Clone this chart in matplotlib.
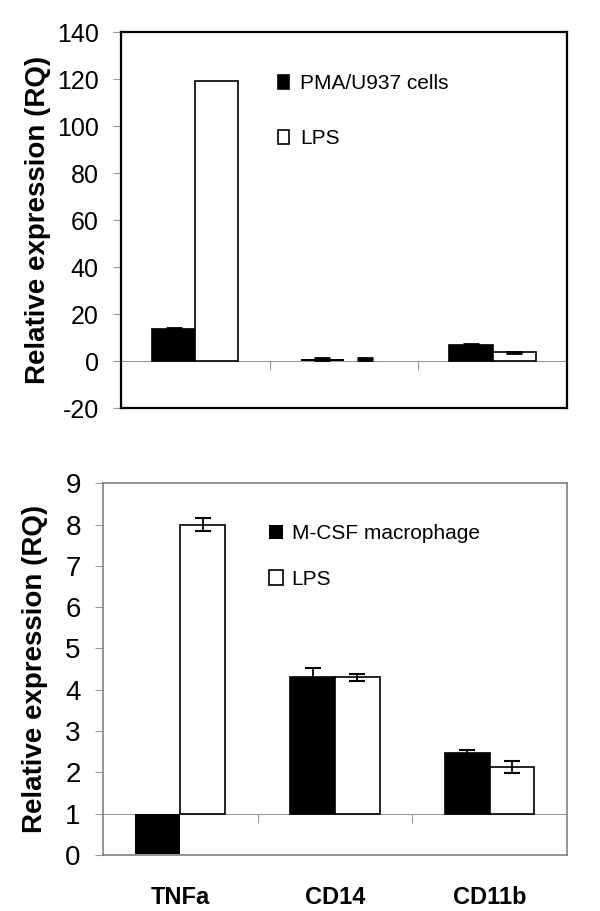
import numpy as np
import matplotlib.pyplot as plt

plt.rcParams['font.family'] = ['Liberation Sans', 'DejaVu Sans']
plt.rcParams['axes.unicode_minus'] = False

# ========== data ==========
categories = ["TNFa", "CD14", "CD11b"]

# top panel: PMA/U937 cells
top_ctrl = [13.5, 0.85, 6.8]
top_lps = [119.3, 0.85, 3.8]
top_ctrl_err = [0.6, 0.45, 0.5]
top_lps_err = [0.0, 0.45, 0.2]
top_yticks = [-20, 0, 20, 40, 60, 80, 100, 120, 140]

# bottom panel: M-CSF macrophage (bars drawn from baseline 1)
bot_ctrl = [0.02, 4.31, 2.46]
bot_lps = [8.0, 4.3, 2.13]
bot_ctrl_err = [0.0, 0.22, 0.08]
bot_lps_err = [0.16, 0.08, 0.14]
bot_yticks = [0, 1, 2, 3, 4, 5, 6, 7, 8, 9]

x = np.arange(len(categories))
width = 0.29
gray = "#9a9a9a"

fig = plt.figure(figsize=(6.0, 9.11), dpi=100)


def draw_panel(ax, ctrl, lps, ctrl_err, lps_err, base, yticks, labels, tick_fs, elw):
    ctrl = np.array(ctrl)
    lps = np.array(lps)
    lw_c = [1.2 if abs(v - base) > 1 else 0 for v in ctrl]
    lw_l = [1.2 if abs(v - base) > 1 else 0 for v in lps]
    ax.bar(x - width/2, ctrl - base, width, bottom=base, color="black",
           edgecolor="black", linewidth=lw_c, label=labels[0], zorder=3)
    ax.bar(x + width/2, lps - base, width, bottom=base, color="white",
           edgecolor="black", linewidth=lw_l, label=labels[1], zorder=3)
    # skip zero errors so no stray caps are drawn
    for xs, vals, errs in [(x - width/2, ctrl, ctrl_err), (x + width/2, lps, lps_err)]:
        errs = np.array(errs)
        m = errs > 0
        ax.errorbar(xs[m], vals[m], yerr=errs[m], fmt="none", ecolor="black",
                    elinewidth=elw, capsize=5.8, capthick=elw + 0.2, zorder=4)

    ax.axhline(base, color=gray, linewidth=0.8, zorder=1)
    ax.set_xlim(-0.5, len(categories) - 0.5)
    ax.set_ylim(yticks[0], yticks[-1])
    ax.set_yticks(yticks)
    ax.tick_params(axis="y", direction="out", length=6, width=0.8, color=gray,
                   labelsize=tick_fs, pad=10)
    # category separators below baseline
    span = yticks[-1] - yticks[0]
    ax.vlines(x[:-1] + 0.5, base - span * 0.024, base, color=gray, linewidth=0.8)
    ax.set_ylabel("Relative expression (RQ)", fontsize=20, fontweight="bold")


# ---- top panel ----
ax1 = fig.add_axes([0.2017, 0.552, 0.743, 0.4127])
draw_panel(ax1, top_ctrl, top_lps, top_ctrl_err, top_lps_err, 0, top_yticks,
           ["PMA/U937 cells", "LPS"], 18, 1.8)
ax1.set_xticks([])
for s in ax1.spines.values():
    s.set_color("black")
    s.set_linewidth(1.6)
ax1.yaxis.set_label_coords(-0.157, 0.5)
ax1.legend(loc="upper left", bbox_to_anchor=(0.352, 0.888), frameon=False,
           fontsize=15, handlelength=0.55, handleheight=0.62, handletextpad=0.5,
           labelspacing=1.72, borderpad=0, borderaxespad=0)

# ---- bottom panel ----
ax2 = fig.add_axes([0.1717, 0.0615, 0.773, 0.408])
draw_panel(ax2, bot_ctrl, bot_lps, bot_ctrl_err, bot_lps_err, 1, bot_yticks,
           ["M-CSF macrophage", "LPS"], 20, 1.3)
ax2.set_xticks(x)
ax2.set_xticklabels(categories, fontsize=17, fontweight="bold")
ax2.tick_params(axis="x", length=0, pad=22)
for s in ax2.spines.values():
    s.set_color("#808080")
    s.set_linewidth(1.2)
ax2.yaxis.set_label_coords(-0.119, 0.5)
ax2.legend(loc="upper left", bbox_to_anchor=(0.358, 0.89), frameon=False,
           fontsize=15, handlelength=0.68, handleheight=0.7, handletextpad=0.4,
           labelspacing=1.28, borderpad=0, borderaxespad=0)

plt.savefig("out.png", dpi=100)
